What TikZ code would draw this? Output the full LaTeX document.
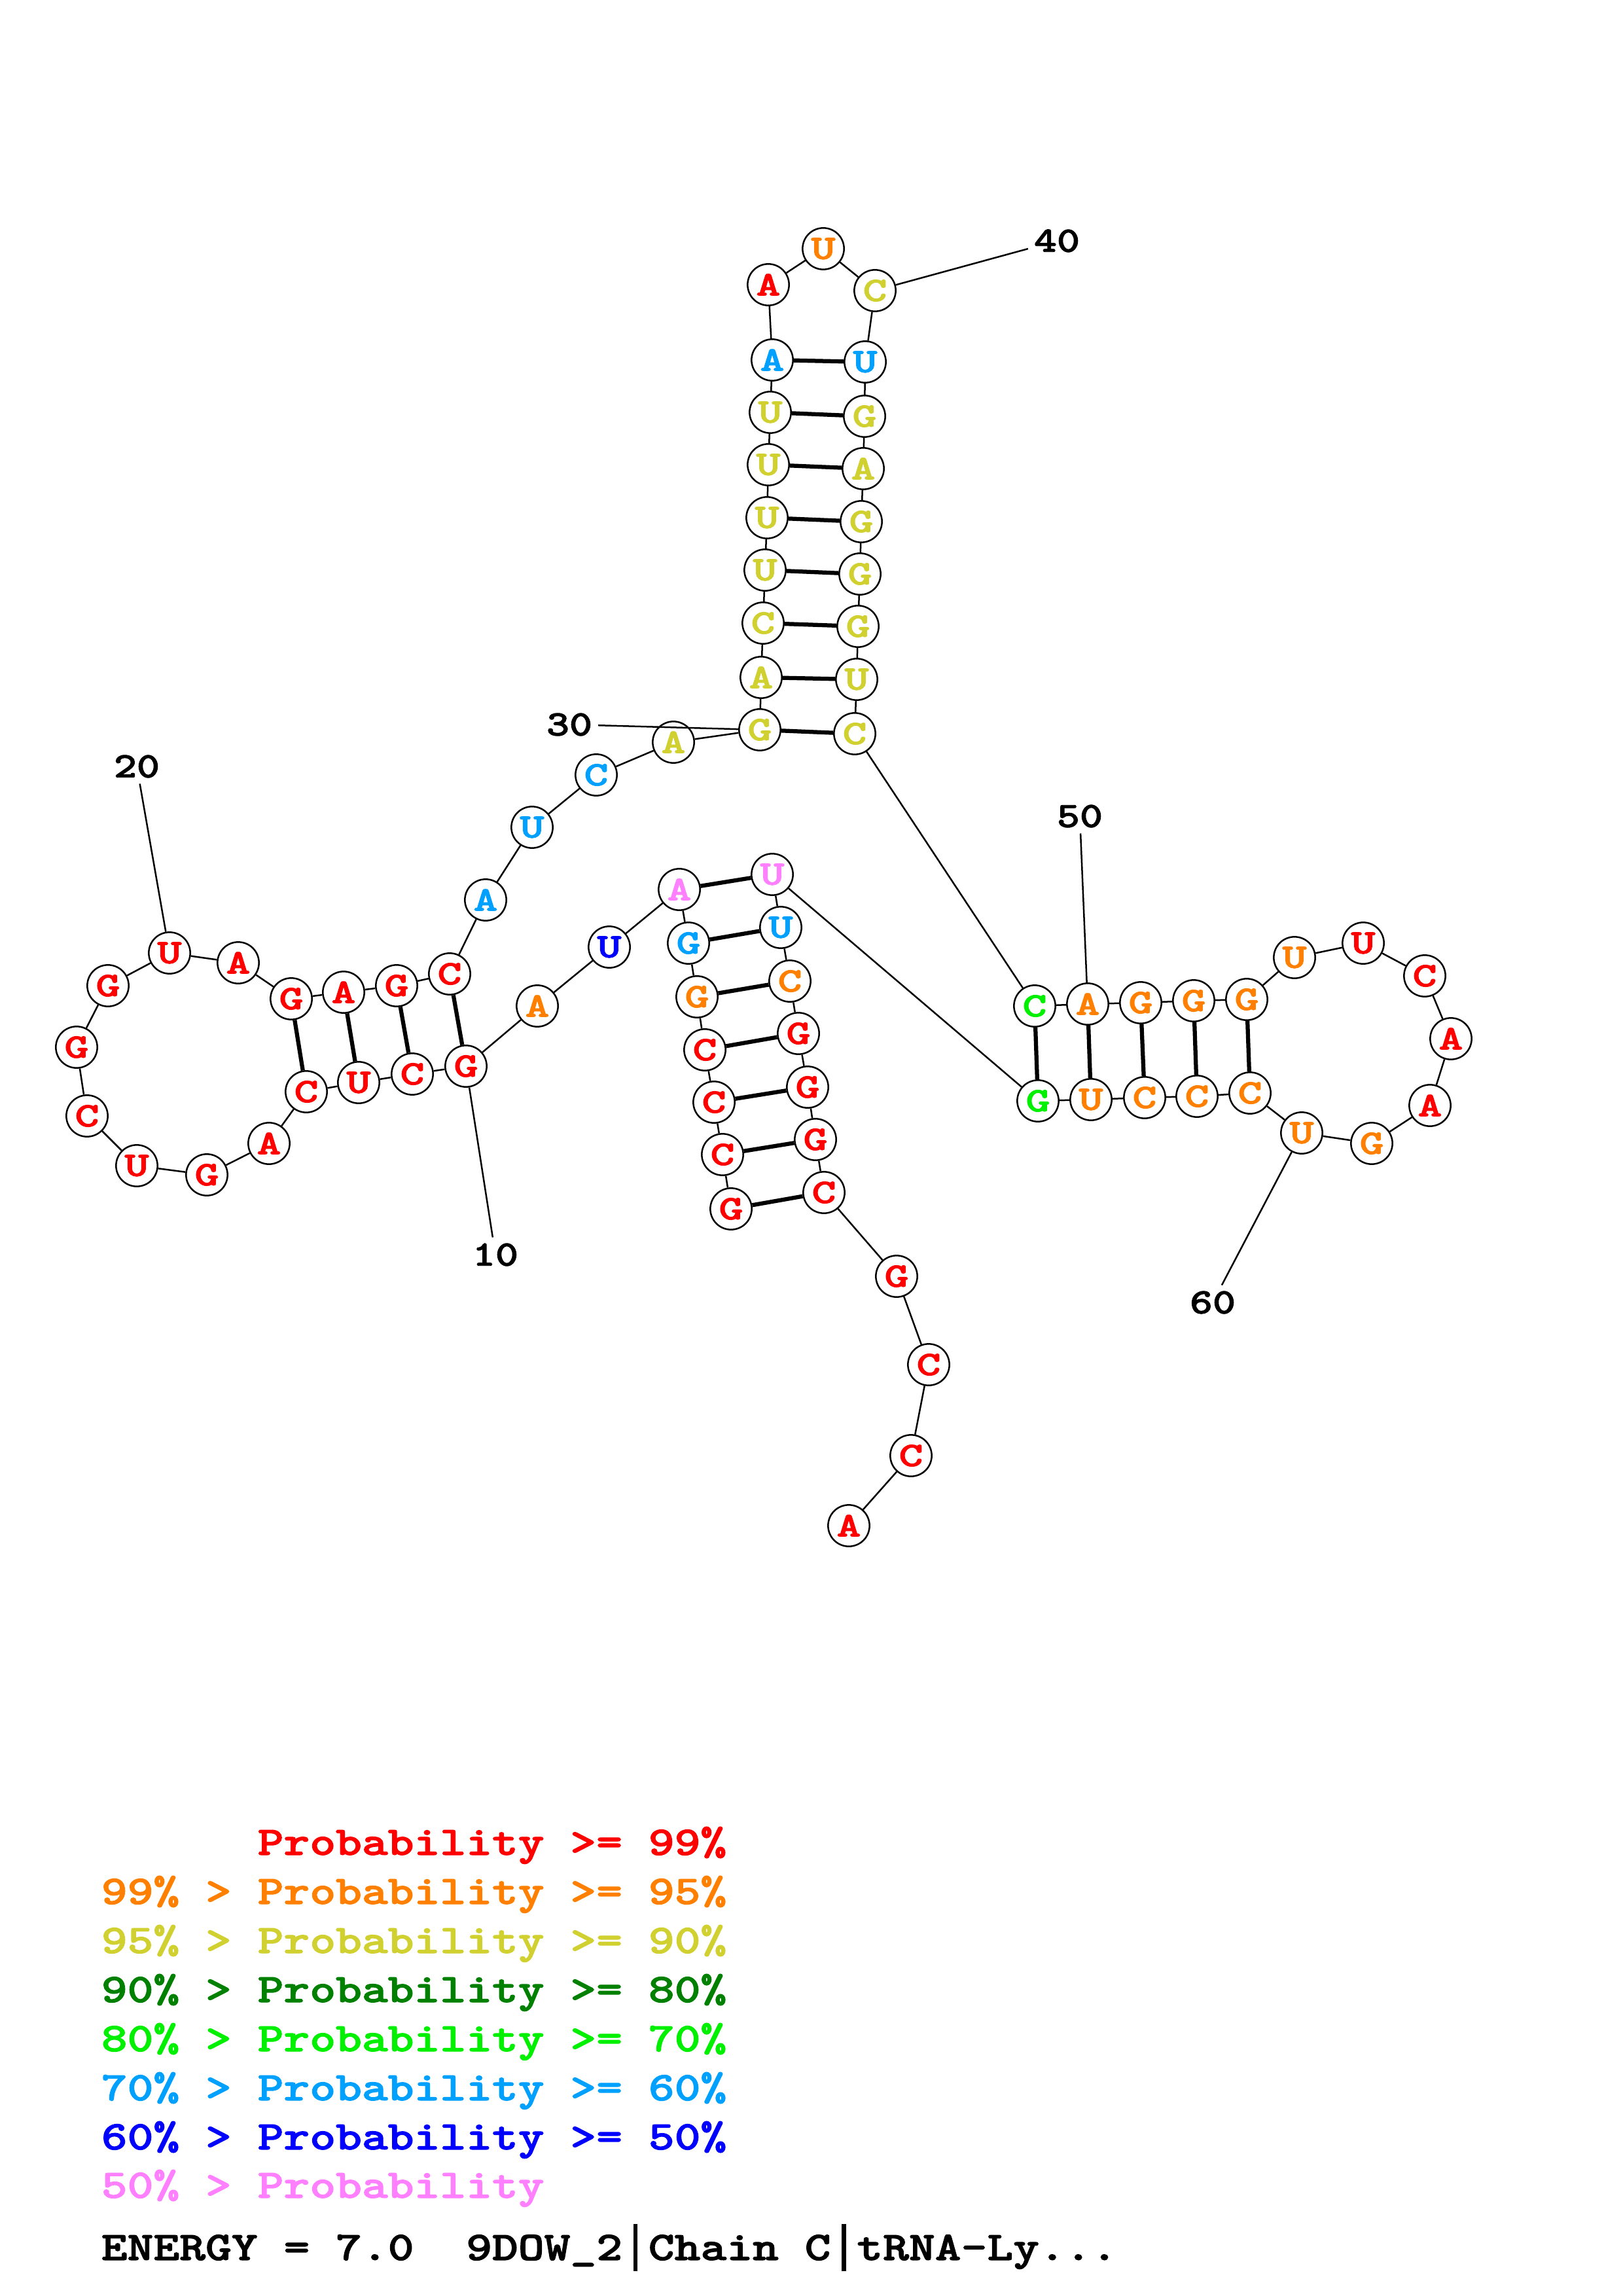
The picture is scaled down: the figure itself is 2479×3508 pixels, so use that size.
\documentclass[tikz,border=0pt]{standalone}
\usepackage{graphicx}
\usepackage{fontspec}
\newfontfamily\cour{lmmonolt10-bold.otf}[FakeBold=1.6]
\definecolor{cR}{RGB}{255,0,0}
\definecolor{cO}{RGB}{255,128,0}
\definecolor{cY}{RGB}{208,208,48}
\definecolor{cDG}{RGB}{0,128,0}
\definecolor{cG}{RGB}{0,240,0}
\definecolor{cLB}{RGB}{0,160,255}
\definecolor{cB}{RGB}{0,0,255}
\definecolor{cP}{RGB}{255,128,255}
\newcommand\ntx[1]{\scalebox{1.1}[0.82]{#1}}
\newcommand\lgx[1]{\scalebox{1}[0.82]{#1}}
\newcommand\vbar{\makebox[9.555pt]{\rule[-5pt]{1.5pt}{21.1pt}}}
\begin{document}
\begin{tikzpicture}[x=0.24pt,y=-0.24pt,
  nt/.style={circle,draw=black,line width=0.6pt,fill=white,minimum size=15.2pt,inner sep=0pt,
    font=\cour\fontsize{15.4}{15.4}\selectfont},
  bb/.style={line width=0.6pt},
  bp/.style={line width=1.5pt},
  numlab/.style={inner sep=2pt,font=\cour\fontsize{16}{16}\selectfont},
  leg/.style={anchor=base west,inner sep=0pt,font=\cour\fontsize{18.2}{18.2}\selectfont}]
\useasboundingbox (0,0) rectangle (2479,3508);
% nucleotides
\foreach \i/\x/\y/\b/\c in {
 1/1117/1847/G/cR, 2/1104/1764/C/cR, 3/1091/1684/C/cR, 4/1077/1604/C/cR, 5/1065/1523/G/cO,
 6/1052/1441/G/cLB, 7/1038/1359/A/cP, 8/931/1447/U/cB, 9/821/1537/A/cO, 10/712/1629/G/cR,
 11/630/1641/C/cR, 12/548/1654/U/cR, 13/468/1668/C/cR, 14/411/1747/A/cR, 15/316/1795/G/cR,
 16/209/1781/U/cR, 17/133/1705/C/cR, 18/117/1600/G/cR, 19/165/1506/G/cR, 20/259/1456/U/cR,
 21/364/1471/A/cR, 22/445/1526/G/cR, 23/525/1516/A/cR, 24/606/1506/G/cR, 25/687/1488/C/cR,
 26/742/1375/A/cLB, 27/813/1264/U/cLB, 28/911/1184/C/cLB, 29/1029/1134/A/cY, 30/1161/1115/G/cY,
 31/1163/1035/A/cY, 32/1166/952/C/cY, 33/1169/871/U/cY, 34/1172/791/U/cY, 35/1174/710/U/cY,
 36/1177/630/U/cY, 37/1180/550/A/cLB, 38/1174/435/A/cR, 39/1258/380/U/cO, 40/1337/444/C/cY,
 41/1322/553/U/cLB, 42/1321/636/G/cY, 43/1319/716/A/cY, 44/1316/797/G/cY, 45/1314/877/G/cY,
 46/1311/957/G/cY, 47/1309/1038/U/cY, 48/1306/1121/C/cY, 49/1581/1537/C/cG, 50/1662/1534/A/cO,
 51/1743/1532/G/cO, 52/1824/1529/G/cO, 53/1905/1527/G/cO, 54/1978/1463/U/cO, 55/2083/1441/U/cR,
 56/2177/1491/C/cR, 57/2217/1587/A/cR, 58/2185/1689/A/cR, 59/2096/1747/G/cO, 60/1989/1731/U/cO,
 61/1910/1670/C/cO, 62/1829/1675/C/cO, 63/1749/1677/C/cO, 64/1667/1680/U/cO, 65/1586/1682/G/cG,
 66/1180/1336/U/cP, 67/1193/1417/U/cLB, 68/1207/1499/C/cO, 69/1220/1579/G/cR, 70/1234/1661/G/cR,
 71/1246/1741/G/cR, 72/1259/1822/C/cR, 73/1370/1950/G/cR, 74/1419/2085/C/cR, 75/1392/2224/C/cR,
 76/1297/2331/A/cR}
 \node[nt,text=\c] (n\i) at (\x,\y) {\ntx{\b}};
% backbone
\foreach \i [evaluate=\i as \j using int(\i+1)] in {1,...,75}
 \draw[bb] (n\i) -- (n\j);
% base pairs
\foreach \a/\b in {1/72,2/71,3/70,4/69,5/68,6/67,7/66,10/25,11/24,12/23,13/22,
 30/48,31/47,32/46,33/45,34/44,35/43,36/42,37/41,49/65,50/64,51/63,52/62,53/61}
 \draw[bp] (n\a) -- (n\b);
% numbering
\node[numlab] (l10) at (757,1917) {\lgx{10}};
\node[numlab] (l20) at (209,1171) {\lgx{20}};
\node[numlab] (l30) at (870,1107) {\lgx{30}};
\node[numlab] (l40) at (1615,368) {\lgx{40}};
\node[numlab] (l50) at (1650,1247) {\lgx{50}};
\node[numlab] (l60) at (1853,1990) {\lgx{60}};
\draw[bb] (n10) -- (l10);
\draw[bb] (l20) -- (n20);
\draw[bb] (l30) -- (n30);
\draw[bb] (n40) -- (l40);
\draw[bb] (l50) -- (n50);
\draw[bb] (n60) -- (l60);
% legend
\node[leg,text=cR] (g1) at (154,2834) {\lgx{\hphantom{99\%\ >\ }Probability >= 99\%}};
\node[leg,text=cO] (g2) at (154,2909) {\lgx{99\% > Probability >= 95\%}};
\node[leg,text=cY] (g3) at (154,2984) {\lgx{95\% > Probability >= 90\%}};
\node[leg,text=cDG] (g4) at (154,3059) {\lgx{90\% > Probability >= 80\%}};
\node[leg,text=cG] (g5) at (154,3134) {\lgx{80\% > Probability >= 70\%}};
\node[leg,text=cLB] (g6) at (154,3209) {\lgx{70\% > Probability >= 60\%}};
\node[leg,text=cB] (g7) at (154,3284) {\lgx{60\% > Probability >= 50\%}};
\node[leg,text=cP] (g8) at (154,3358) {\lgx{50\% > Probability}};
\node[leg,text=black] (en) at (154,3453) {\lgx{ENERGY = 7.0\ \ 9DOW\_2\vbar Chain C\vbar tRNA-Ly...}};
\end{tikzpicture}
\end{document}
